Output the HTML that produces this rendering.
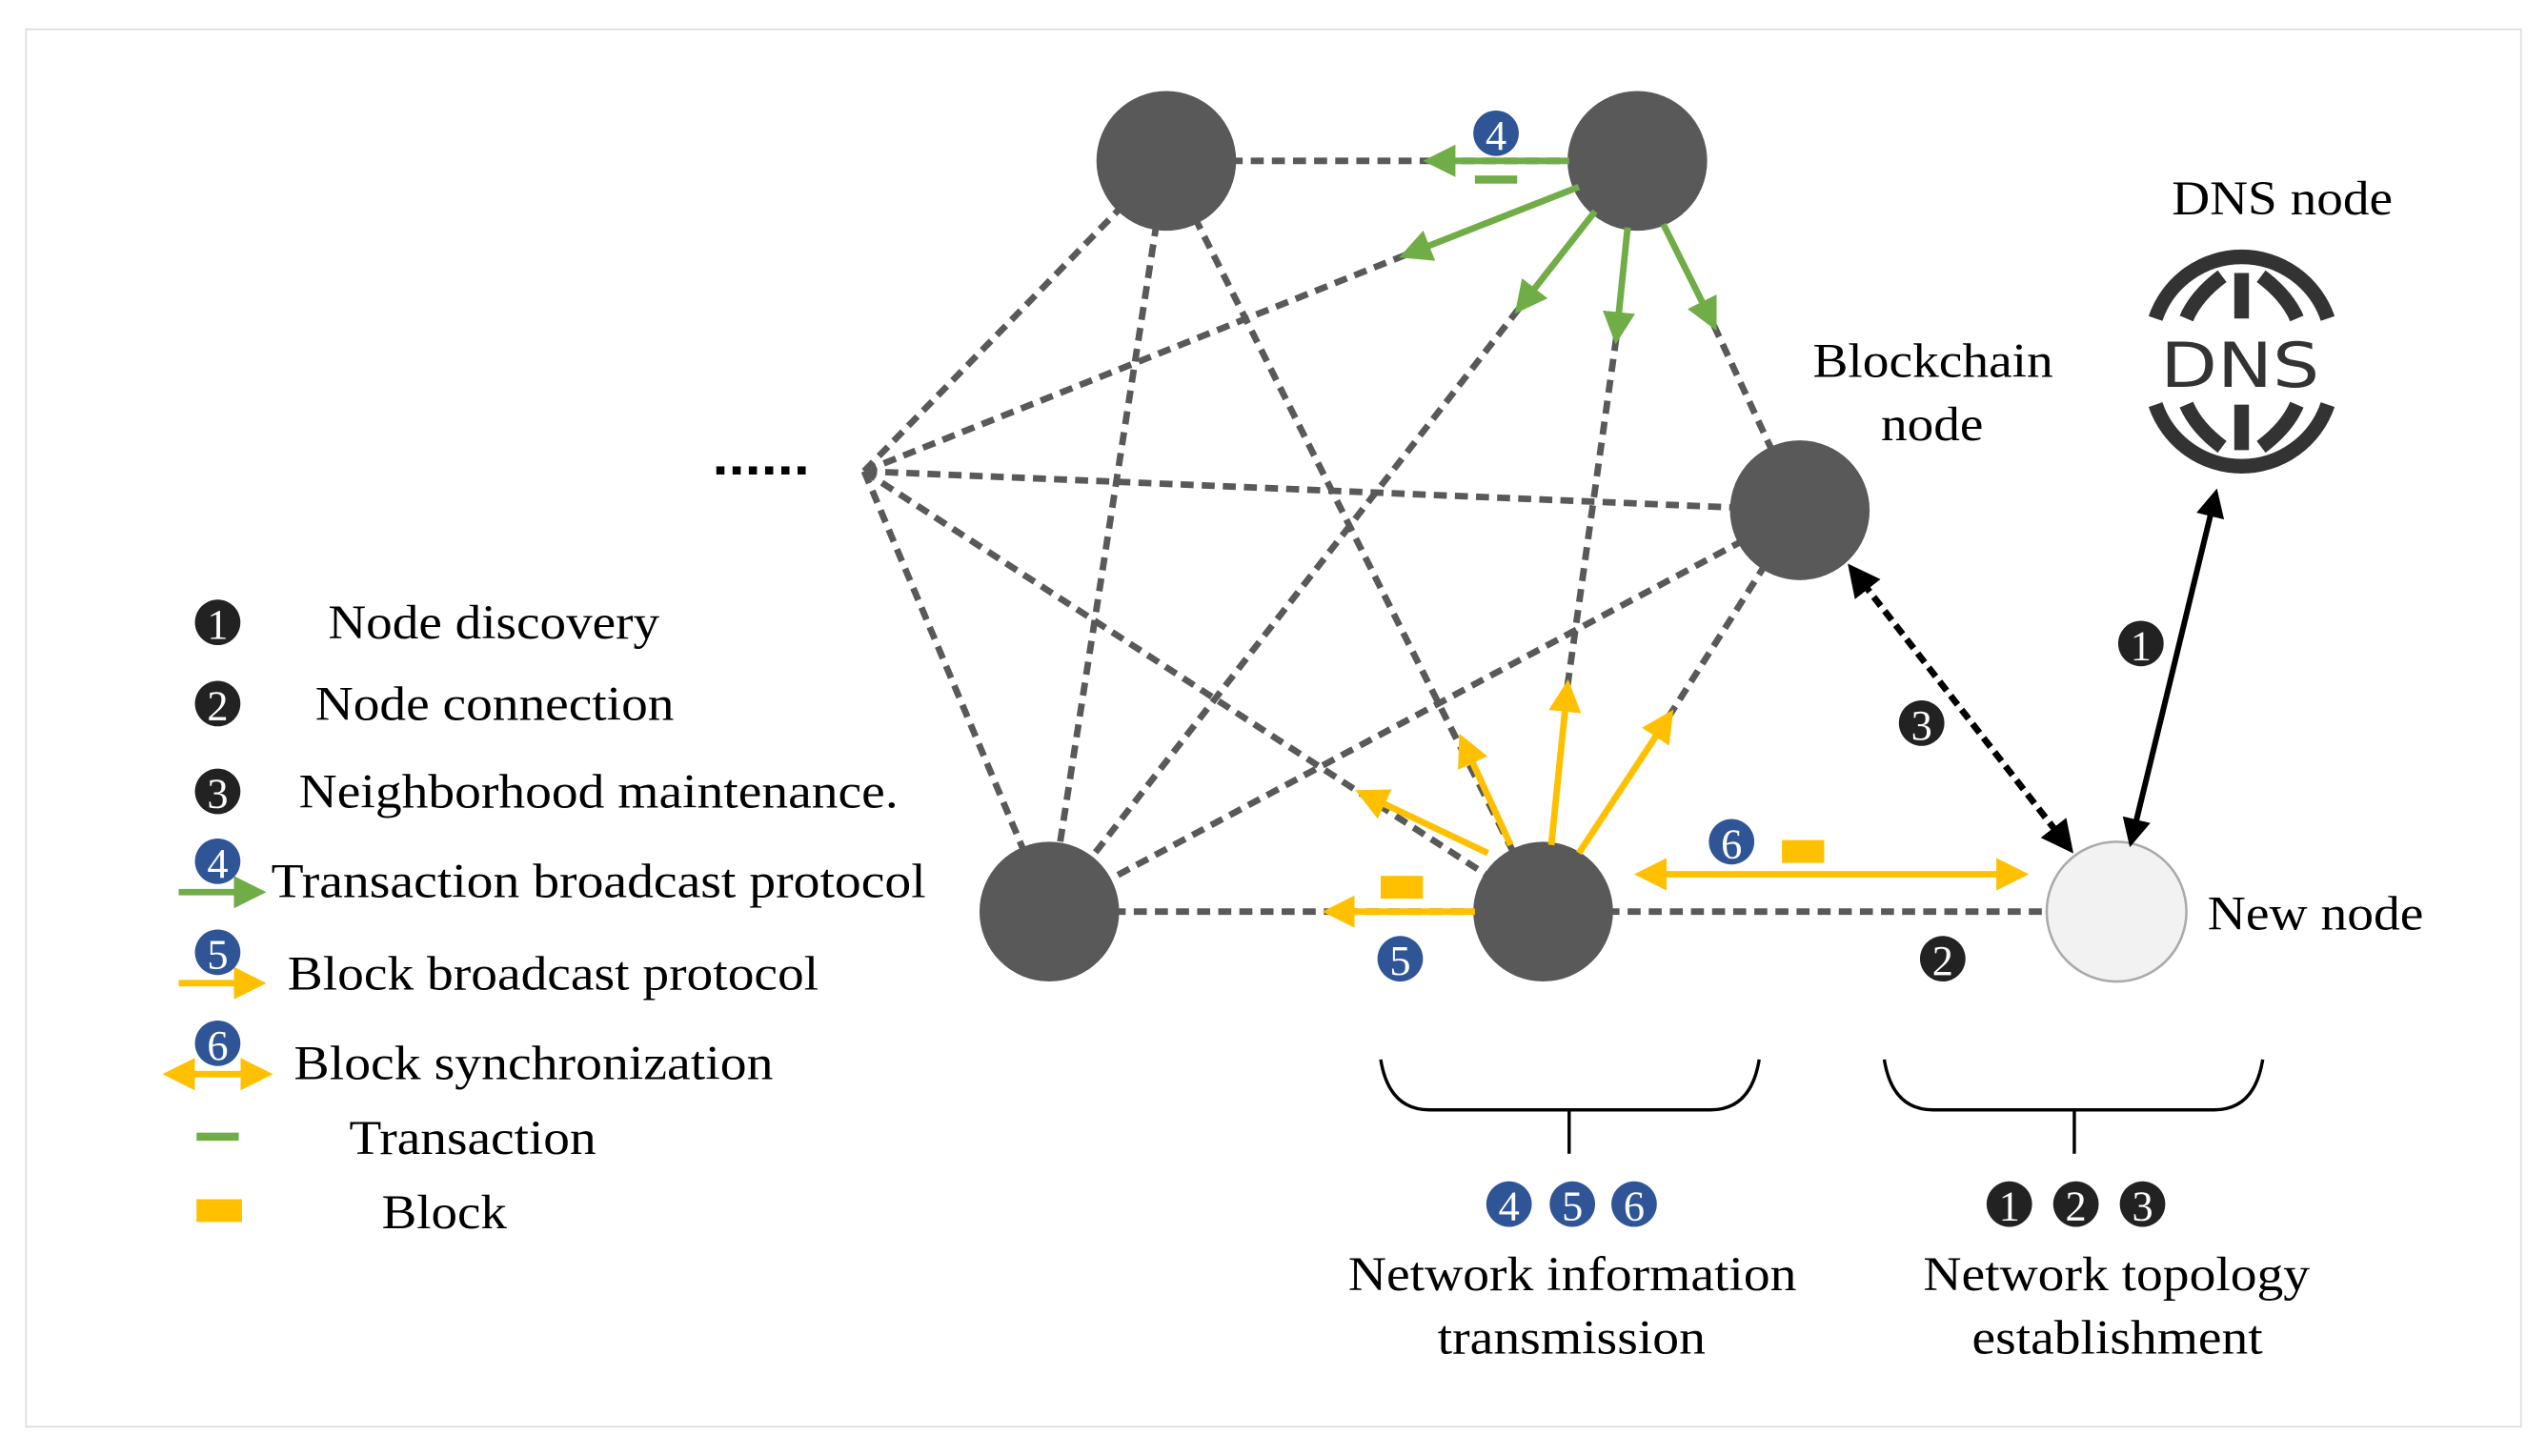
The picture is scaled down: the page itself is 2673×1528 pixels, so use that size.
<!DOCTYPE html>
<html><head><meta charset="utf-8"><style>html,body{margin:0;padding:0;background:#fff}svg{display:block}</style></head>
<body>
<svg width="2673" height="1528" viewBox="0 0 1568 896" preserveAspectRatio="none" xmlns="http://www.w3.org/2000/svg" font-family="Liberation Serif, serif">
<defs>
<marker id="g" viewBox="0 0 10 10" refX="8" refY="5" markerWidth="5" markerHeight="5" orient="auto-start-reverse" markerUnits="strokeWidth"><path d="M0,0L10,5L0,10Z" fill="#70ad47"/></marker>
<marker id="y" viewBox="0 0 10 10" refX="8" refY="5" markerWidth="5" markerHeight="5" orient="auto-start-reverse" markerUnits="strokeWidth"><path d="M0,0L10,5L0,10Z" fill="#ffc000"/></marker>
<marker id="k" viewBox="0 0 10 10" refX="8" refY="5" markerWidth="5" markerHeight="5" orient="auto-start-reverse" markerUnits="strokeWidth"><path d="M0,0L10,5L0,10Z" fill="#000"/></marker>
</defs>
<rect x="16" y="18" width="1536" height="860" fill="none" stroke="#ddd" stroke-width="1"/>
<g stroke="#595959" stroke-width="4" stroke-dasharray="8 5" fill="none">
<line x1="718" y1="99" x2="1008" y2="99"/>
<line x1="532" y1="290" x2="718" y2="99"/>
<line x1="532" y1="290" x2="865" y2="157"/>
<line x1="532" y1="290" x2="1108" y2="314"/>
<line x1="532" y1="290" x2="646" y2="561"/>
<line x1="532" y1="290" x2="950" y2="561"/>
<line x1="718" y1="99" x2="646" y2="561"/>
<line x1="718" y1="99" x2="950" y2="561"/>
<line x1="935" y1="190" x2="646" y2="561"/>
<line x1="995" y1="208" x2="965" y2="422"/>
<line x1="1055" y1="200" x2="1108" y2="314"/>
<line x1="1108" y1="314" x2="646" y2="561"/>
<line x1="1108" y1="314" x2="1028" y2="440"/>
<line x1="646" y1="561" x2="950" y2="561"/>
<line x1="950" y1="561" x2="1303" y2="561"/>
</g>
<g fill="#000"><rect x="441" y="287" width="5" height="5"/><rect x="451" y="287" width="5" height="5"/><rect x="461" y="287" width="5" height="5"/><rect x="471" y="287" width="5" height="5"/><rect x="481" y="287" width="5" height="5"/><rect x="491" y="287" width="5" height="5"/></g>
<g fill="#595959">
<circle cx="718" cy="99" r="43"/><circle cx="1008" cy="99" r="43"/><circle cx="1108" cy="314" r="43"/><circle cx="646" cy="561" r="43"/><circle cx="950" cy="561" r="43"/>
</g>
<circle cx="1303" cy="561" r="43" fill="#f2f2f2" stroke="#aaa" stroke-width="1.5"/>
<g stroke="#70ad47" stroke-width="4" marker-end="url(#g)">
<line x1="966" y1="99" x2="880" y2="99"/>
<line x1="972" y1="115" x2="865" y2="157"/>
<line x1="982" y1="130" x2="935" y2="190"/>
<line x1="1002" y1="140" x2="995" y2="208"/>
<line x1="1024" y1="138" x2="1055" y2="200"/>
</g>
<rect x="908" y="108" width="26" height="5" fill="#70ad47"/>
<g stroke="#ffc000" stroke-width="4" marker-end="url(#y)">
<line x1="916" y1="525" x2="838" y2="488"/>
<line x1="930" y1="520" x2="900" y2="455"/>
<line x1="955" y1="520" x2="965" y2="422"/>
<line x1="972" y1="525" x2="1028" y2="440"/>
<line x1="908" y1="561" x2="818" y2="561"/>
<line x1="1010" y1="538" x2="1245" y2="538" marker-start="url(#y)"/>
</g>
<rect x="850" y="539" width="26" height="14" fill="#ffc000"/>
<rect x="1097" y="517" width="26" height="14" fill="#ffc000"/>
<line x1="1312" y1="518" x2="1364" y2="304" stroke="#000" stroke-width="3.5" marker-end="url(#k)" marker-start="url(#k)"/>
<line x1="1140" y1="350" x2="1274" y2="522" stroke="#000" stroke-width="4" stroke-dasharray="7 4" marker-end="url(#k)" marker-start="url(#k)"/>
<!-- DNS icon -->
<g stroke="#333" stroke-width="9" fill="none">
<path d="M1327,196 A56,56 0 0 1 1433,196"/>
<path d="M1327,249 A56,56 0 0 0 1433,249"/>
<line x1="1380" y1="168" x2="1380" y2="196"/><line x1="1380" y1="249" x2="1380" y2="277"/>
<path d="M1368,170 Q1352,182 1346,196"/><path d="M1392,170 Q1408,182 1414,196"/>
<path d="M1368,275 Q1352,263 1346,249"/><path d="M1392,275 Q1408,263 1414,249"/>
</g>
<text x="1379" y="238" font-family="DejaVu Sans, sans-serif" font-size="38" fill="#333" text-anchor="middle" textLength="98" lengthAdjust="spacingAndGlyphs">DNS</text>
<g font-size="30" fill="#000" lengthAdjust="spacingAndGlyphs">
<text x="1337" y="132" textLength="136" lengthAdjust="spacingAndGlyphs">DNS node</text>
<text x="1116" y="232" textLength="148" lengthAdjust="spacingAndGlyphs">Blockchain</text>
<text x="1158" y="271" textLength="63" lengthAdjust="spacingAndGlyphs">node</text>
<text x="1359" y="572" textLength="133" lengthAdjust="spacingAndGlyphs">New node</text>
<text x="202" y="393" textLength="204" lengthAdjust="spacingAndGlyphs">Node discovery</text>
<text x="194" y="443" textLength="221" lengthAdjust="spacingAndGlyphs">Node connection</text>
<text x="184" y="497" textLength="369" lengthAdjust="spacingAndGlyphs">Neighborhood maintenance.</text>
<text x="167" y="552" textLength="403" lengthAdjust="spacingAndGlyphs">Transaction broadcast protocol</text>
<text x="177" y="609" textLength="327" lengthAdjust="spacingAndGlyphs">Block broadcast protocol</text>
<text x="181" y="664" textLength="295" lengthAdjust="spacingAndGlyphs">Block synchronization</text>
<text x="215" y="710" textLength="152" lengthAdjust="spacingAndGlyphs">Transaction</text>
<text x="235" y="756" textLength="77" lengthAdjust="spacingAndGlyphs">Block</text>
<text x="830" y="794" textLength="276" lengthAdjust="spacingAndGlyphs">Network information</text>
<text x="885" y="833" textLength="165" lengthAdjust="spacingAndGlyphs">transmission</text>
<text x="1184" y="794" textLength="238" lengthAdjust="spacingAndGlyphs">Network topology</text>
<text x="1214" y="833" textLength="179" lengthAdjust="spacingAndGlyphs">establishment</text>
</g>
<!-- legend icons -->
<line x1="110" y1="549" x2="160" y2="549" stroke="#70ad47" stroke-width="4" marker-end="url(#g)"/>
<line x1="110" y1="605" x2="160" y2="605" stroke="#ffc000" stroke-width="4" marker-end="url(#y)"/>
<line x1="104" y1="661" x2="164" y2="661" stroke="#ffc000" stroke-width="4" marker-end="url(#y)" marker-start="url(#y)"/>
<rect x="121" y="697" width="26" height="5" fill="#70ad47"/>
<rect x="121" y="738" width="28" height="14" fill="#ffc000"/>
<!-- braces -->
<g stroke="#000" stroke-width="2" fill="none">
<path d="M850,652 Q855,683 880,683 L1053,683 Q1078,683 1083,652"/><line x1="966" y1="683" x2="966" y2="710"/>
<path d="M1160,652 Q1165,683 1190,683 L1363,683 Q1388,683 1393,652"/><line x1="1277" y1="683" x2="1277" y2="710"/>
</g>
<!-- number badges -->
<g font-size="26" text-anchor="middle" fill="#fff">
<g><circle cx="134" cy="383" r="14" fill="#222"/><text x="134" y="393">1</text></g>
<g><circle cx="134" cy="433" r="14" fill="#222"/><text x="134" y="443">2</text></g>
<g><circle cx="134" cy="487" r="14" fill="#222"/><text x="134" y="497">3</text></g>
<g><circle cx="134" cy="530" r="14" fill="#2f5597"/><text x="134" y="540">4</text></g>
<g><circle cx="134" cy="586" r="14" fill="#2f5597"/><text x="134" y="596">5</text></g>
<g><circle cx="134" cy="642" r="14" fill="#2f5597"/><text x="134" y="652">6</text></g>
<g><circle cx="921" cy="82" r="14" fill="#2f5597"/><text x="921" y="92">4</text></g>
<g><circle cx="862" cy="590" r="14" fill="#2f5597"/><text x="862" y="600">5</text></g>
<g><circle cx="1066" cy="518" r="14" fill="#2f5597"/><text x="1066" y="528">6</text></g>
<g><circle cx="1318" cy="396" r="14" fill="#222"/><text x="1318" y="406">1</text></g>
<g><circle cx="1196" cy="590" r="14" fill="#222"/><text x="1196" y="600">2</text></g>
<g><circle cx="1183" cy="445" r="14" fill="#222"/><text x="1183" y="455">3</text></g>
<g><circle cx="929" cy="741" r="14" fill="#2f5597"/><text x="929" y="751">4</text></g>
<g><circle cx="968" cy="741" r="14" fill="#2f5597"/><text x="968" y="751">5</text></g>
<g><circle cx="1006" cy="741" r="14" fill="#2f5597"/><text x="1006" y="751">6</text></g>
<g><circle cx="1237" cy="741" r="14" fill="#222"/><text x="1237" y="751">1</text></g>
<g><circle cx="1278" cy="741" r="14" fill="#222"/><text x="1278" y="751">2</text></g>
<g><circle cx="1319" cy="741" r="14" fill="#222"/><text x="1319" y="751">3</text></g>
</g>
</svg>
</body></html>
